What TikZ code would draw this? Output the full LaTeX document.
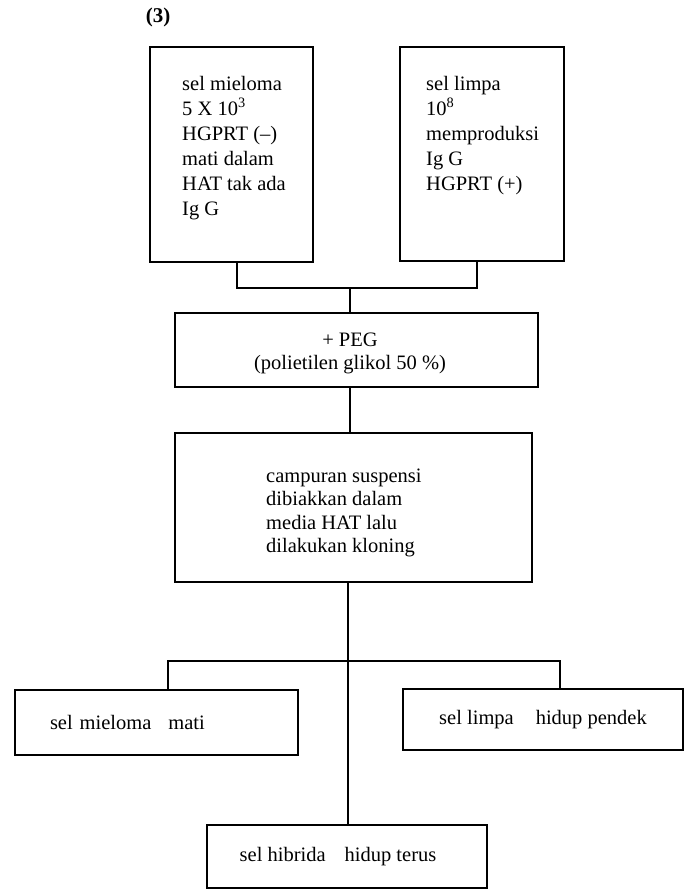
\documentclass[tikz,border=0pt]{standalone}
\usepackage{fontspec}
\setmainfont{Liberation Serif}
\begin{document}
\begin{tikzpicture}[x=1pt,y=-1pt,
  box/.style={draw, line width=2pt, inner sep=0pt, font=\fontsize{20.5}{25}\selectfont},
  txt/.style={inner sep=0pt, font=\fontsize{20.5}{25}\selectfont},
  conn/.style={line width=2pt}]
\useasboundingbox (0,0) rectangle (691,892);
\fill[white] (0,0) rectangle (691,892);
\node[font=\bfseries\fontsize{21}{24}\selectfont, inner sep=0pt] (lbl) at (158,17) {(3)};
\node[box, minimum width=163pt, minimum height=215pt,
  label={[txt, anchor=north west, shift={(33,26.5)}]north west:{\begin{tabular}{@{}l@{}}sel mieloma\\5 X 10\textsuperscript{3}\\HGPRT (--)\\mati dalam\\HAT tak ada\\Ig G\end{tabular}}}] (m1) at (231.5,154.5) {};
\node[box, minimum width=164pt, minimum height=214pt,
  label={[txt, anchor=north west, shift={(27,26.5)}]north west:{\begin{tabular}{@{}l@{}}sel limpa\\10\textsuperscript{8}\\memproduksi\\Ig G\\HGPRT (+)\end{tabular}}}] (m2) at (482,154) {};
\node[box, minimum width=363pt, minimum height=74pt,
  label={[txt, font=\fontsize{20.5}{23}\selectfont, anchor=north, shift={(-6.5,18)}]north:{\begin{tabular}{@{}c@{}}+ PEG\\(polietilen glikol 50 \%)\end{tabular}}}] (peg) at (356.5,350) {};
\node[box, minimum width=357pt, minimum height=149pt,
  label={[txt, font=\fontsize{20.5}{23.5}\selectfont, anchor=north west, shift={(92,33.5)}]north west:{\begin{tabular}{@{}l@{}}campuran suspensi\\dibiakkan dalam\\media HAT lalu\\dilakukan kloning\end{tabular}}}] (camp) at (353.5,507.5) {};
\node[box, minimum height=65pt, inner xsep=35pt, text width=213pt, align=left] (lb) at (156.5,722.5)
  {sel mieloma\hspace{17pt}mati};
\node[box, minimum width=280pt, minimum height=61pt] (rb) at (543,719.5)
  {sel limpa\hspace{22pt}hidup pendek};
\node[box, minimum width=280pt, minimum height=63pt] (hyb) at (347,856.5)
  {\hspace*{-18pt}sel hibrida\hspace{19pt}hidup terus};
\coordinate (j1) at (350,288);
\coordinate (j2) at (348,661);
\coordinate (jl) at (168,661);
\coordinate (jr) at (560,661);
\draw[conn] ([xshift=5.5pt]m1.south) |- (j1) -| ([xshift=-5pt]m2.south);
\draw[conn] (j1) -- (j1 |- peg.north);
\draw[conn] (peg.south -| j1) -- (camp.north -| j1);
\draw[conn] (camp.south -| j2) -- (hyb.north -| j2);
\draw[conn] (lb.north -| jl) -- (jl) -- (jr) -- (rb.north -| jr);
\end{tikzpicture}
\end{document}
